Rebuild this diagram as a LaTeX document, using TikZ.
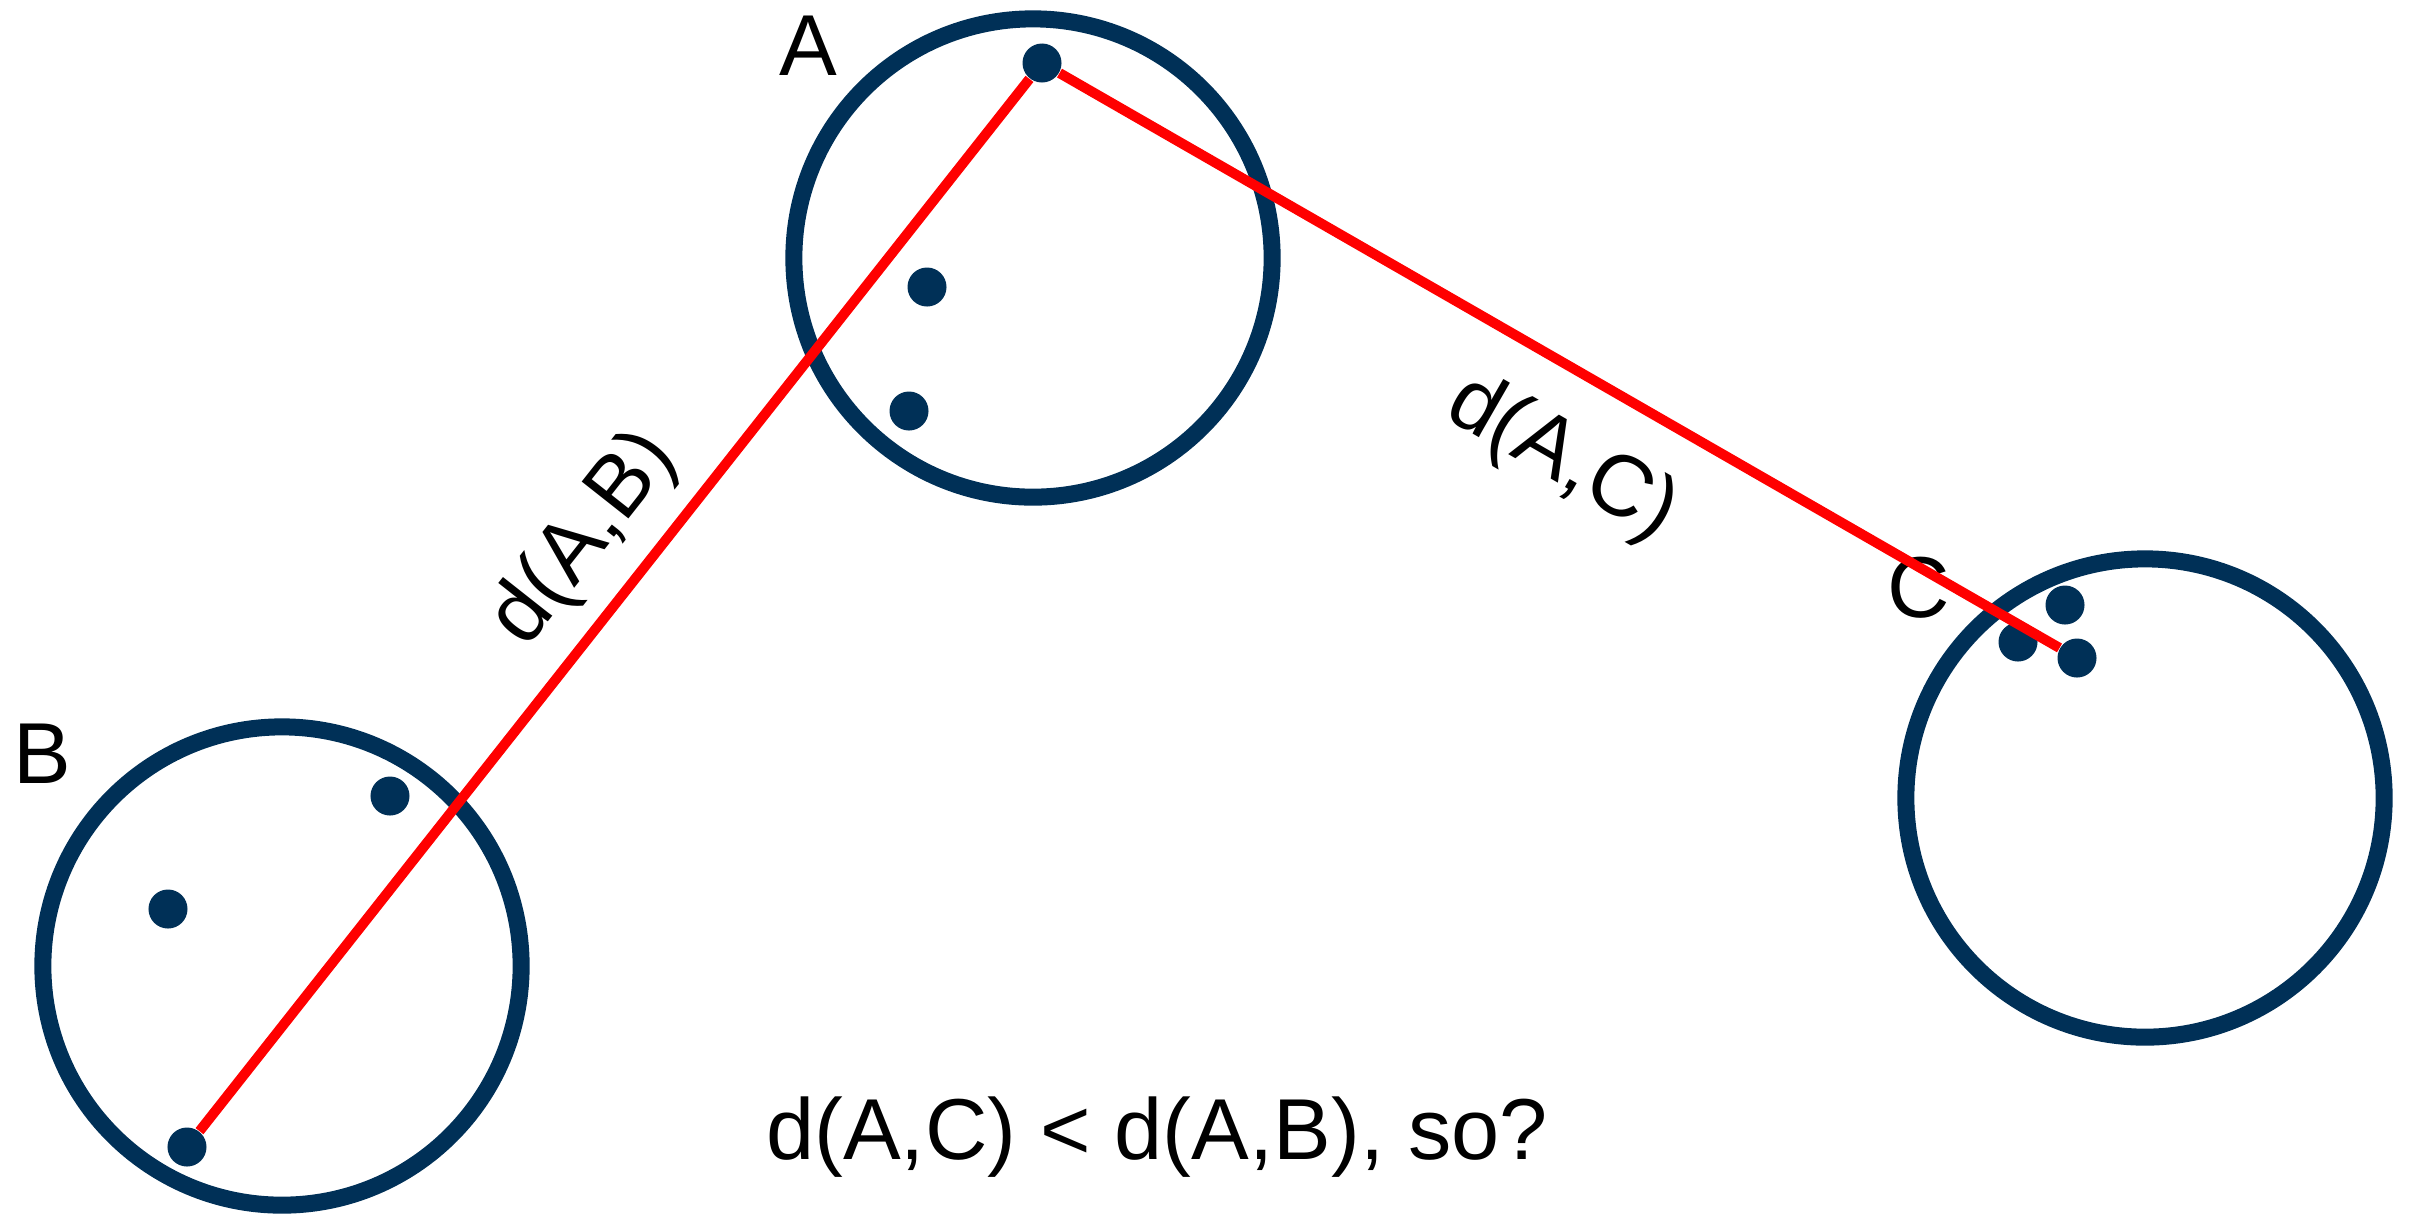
\documentclass[tikz,border=0pt]{standalone}
\usepackage{fontspec}
\setmainfont{Liberation Sans}
\usepackage{xcolor}
\usepackage{tikz}
\usetikzlibrary{positioning}
\definecolor{clusterblue}{RGB}{0, 48, 87}
\definecolor{distred}{RGB}{255, 0, 0}

\begin{document}
\begin{tikzpicture}[
    x=0.01cm, y=-0.01cm,
    cluster/.style={circle, draw=clusterblue, line width=0.17cm,
                    minimum size=4.78cm, inner sep=0pt},
    dot/.style={circle, fill=clusterblue, minimum size=0.39cm, inner sep=0pt},
    ptlabel/.style={font=\fontsize{24.6}{29}\selectfont, inner sep=0pt},
    distlabel/.style={font=\fontsize{24.6}{29}\selectfont, text=black, sloped},
    distline/.style={line width=0.1cm, distred},
]
\useasboundingbox (0,0) rectangle (2409,1217);

\node[cluster] (clA) at (1033,258) {};
\node[cluster] (clB) at (282,966) {};
\node[cluster] (clC) at (2145,798) {};

\node[dot] (a1) at (1042,63) {};
\node[dot] (a2) at (927,287) {};
\node[dot] (a3) at (909,411) {};

\node[dot] (b1) at (187,1147) {};
\node[dot] (b2) at (168,909) {};
\node[dot] (b3) at (390,796) {};

\node[dot] (c1) at (2077,658) {};
\node[dot] (c2) at (2018,642) {};
\node[dot] (c3) at (2065,605) {};

\node[ptlabel] (labA) at (808,46) {A};
\node[ptlabel] (labB) at (42,754) {B};
\node[ptlabel] (labC) at (1919,588) {C};

\draw[distline] (b1) -- node[distlabel, above, inner sep=0.19cm, pos=0.525] (dAB) {d(A,B)} (a1);
\draw[distline] (a1) -- node[distlabel, below, inner sep=0.39cm, pos=0.544] (dAC) {d(A,C)} (c1);

\node[ptlabel] (question) at (1157,1137) {d(A,C) < d(A,B), so?};

\end{tikzpicture}
\end{document}
